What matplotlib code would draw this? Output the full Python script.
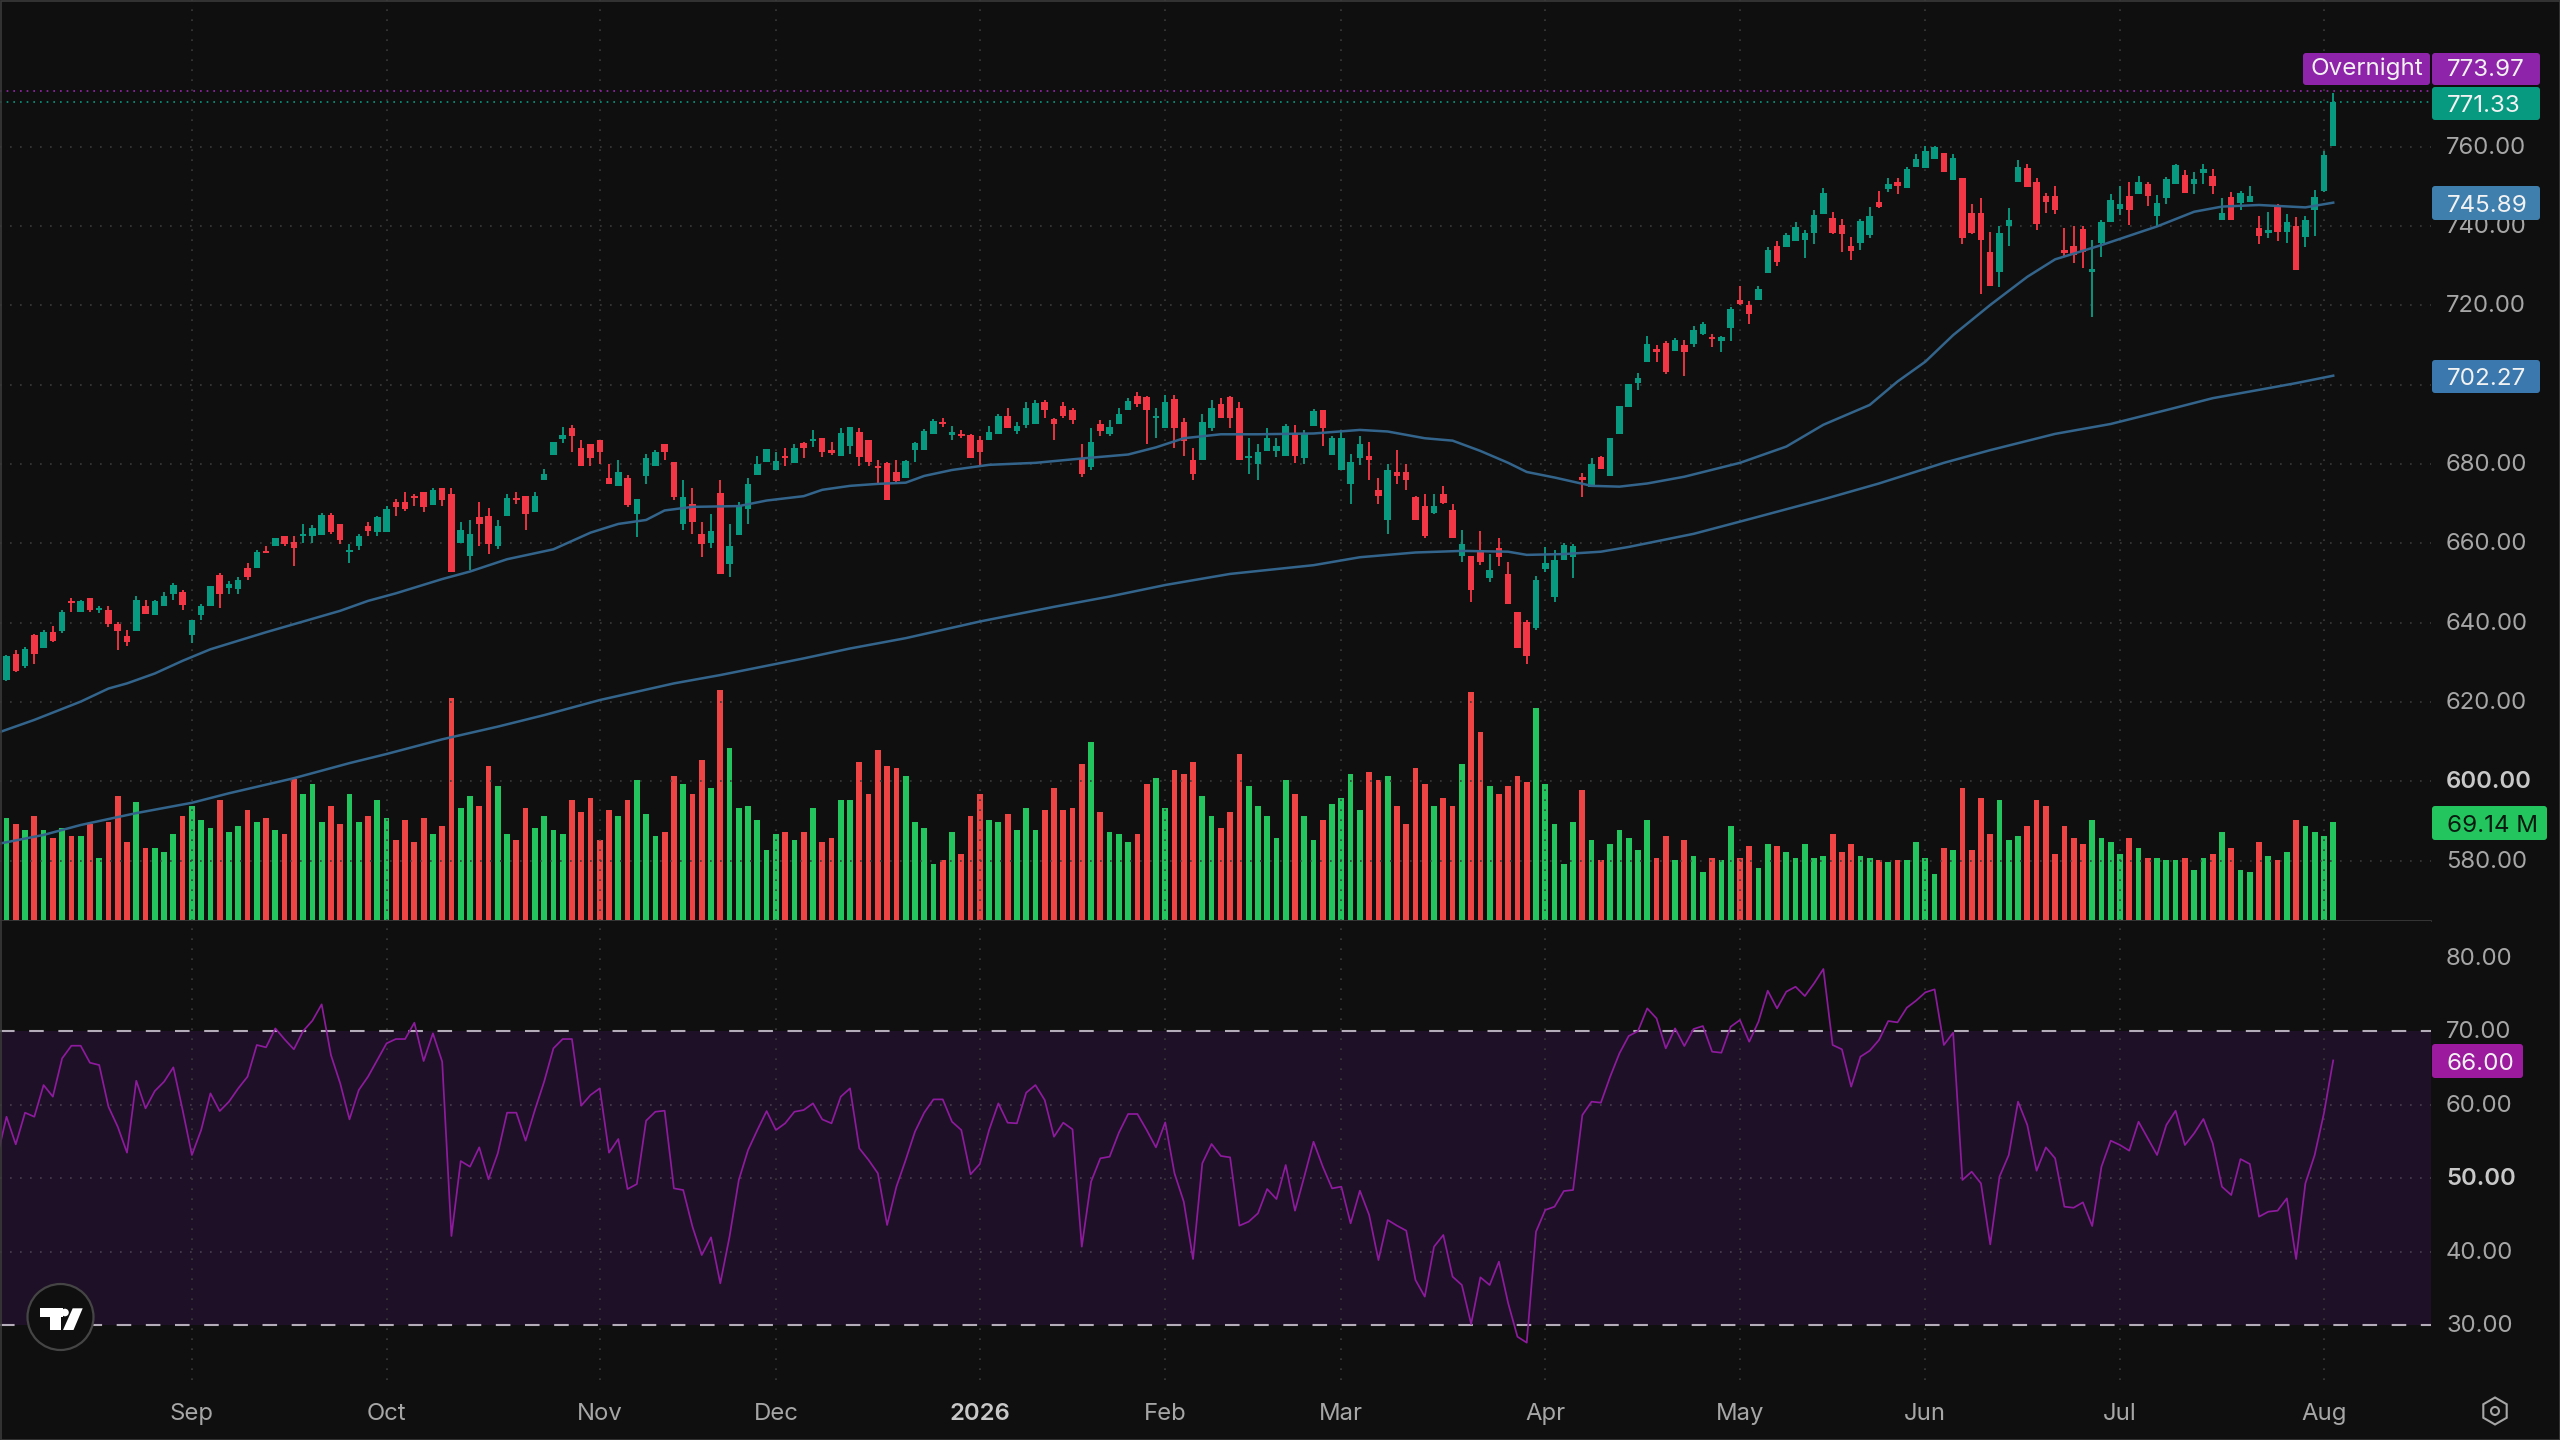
import numpy as np
import matplotlib
matplotlib.use("Agg")
import matplotlib.pyplot as plt
from matplotlib.patches import FancyBboxPatch, Circle, Polygon, RegularPolygon, Rectangle
from matplotlib.transforms import ScaledTranslation

plt.rcParams['font.family'] = ['Inter', 'DejaVu Sans']

opens = [
625.6,632.1,629.0,636.9,633.6,637.6,638.0,645.4,642.8,646.2,
643.2,643.2,639.7,636.7,637.8,644.2,642.0,644.3,647.2,647.8,
636.9,642.0,644.1,651.9,648.7,648.5,653.9,653.9,657.9,659.3,
661.9,660.3,661.9,661.9,662.0,667.2,664.8,657.8,659.3,664.5,
662.8,662.8,670.5,670.4,672.0,672.9,669.7,673.9,672.5,660.0,
656.9,666.7,666.9,659.3,667.0,671.5,672.0,667.9,676.0,682.3,
686.2,689.0,684.0,685.0,686.0,676.4,674.5,676.4,667.4,677.0,
679.4,685.0,680.6,664.9,669.8,662.4,660.2,672.8,654.8,662.1,
668.6,677.2,680.6,678.5,682.0,680.2,685.4,685.7,686.5,683.5,
681.9,684.5,688.2,686.1,679.5,680.2,677.9,676.5,683.5,683.5,
687.6,690.7,687.4,687.6,687.2,686.1,686.1,687.6,692.2,688.3,
689.8,690.1,695.7,691.3,694.6,693.6,681.4,679.3,690.1,687.6,
690.1,693.6,697.2,696.8,691.6,689.0,696.3,690.7,681.0,681.0,
689.0,695.1,696.8,694.0,681.4,679.9,683.4,683.4,682.0,687.7,
681.4,689.6,693.6,682.3,678.5,675.0,681.4,682.0,673.5,665.9,
677.9,677.9,671.6,669.4,667.7,672.4,668.4,656.8,656.8,658.3,
651.2,658.8,652.3,642.6,640.3,638.6,653.5,646.4,655.8,656.5,
676.8,674.3,681.7,677.0,687.6,694.5,700.5,705.8,708.9,710.4,
708.6,710.0,710.2,712.8,711.9,710.9,714.2,721.4,720.1,721.4,
728.1,735.0,734.6,736.1,736.5,738.2,743.0,742.0,740.3,735.0,
735.6,737.7,746.0,749.3,751.2,749.5,755.0,754.7,756.8,758.3,
751.6,752.0,743.4,743.4,733.5,728.5,740.0,751.2,754.7,751.2,
747.6,747.6,734.0,735.0,739.2,728.4,735.8,741.1,744.3,747.6,
748.1,750.6,742.5,747.0,750.6,752.9,750.6,753.4,752.5,741.4,
747.2,745.7,746.1,739.4,738.3,745.1,738.6,740.1,737.3,744.0,
748.9,760.2]

closes = [
631.6,627.7,633.3,632.1,637.7,635.5,642.8,644.9,645.4,643.2,
643.8,639.7,637.8,635.2,645.7,642.2,645.4,646.8,649.4,644.5,
640.7,644.3,649.2,647.2,649.7,650.8,651.6,657.9,657.5,661.3,
659.8,658.9,662.3,663.8,667.2,662.8,660.9,658.3,661.9,663.2,
666.6,668.6,669.1,668.7,671.4,669.1,673.5,671.0,652.9,663.4,
662.3,664.9,659.9,664.4,671.4,670.9,667.3,672.0,677.5,685.6,
687.3,687.1,679.6,681.5,683.1,675.0,678.1,669.7,671.1,681.4,
683.1,683.1,671.8,671.8,665.5,659.9,663.0,652.3,659.4,669.3,
675.0,680.0,683.7,680.8,681.6,684.0,684.0,686.2,683.1,682.9,
687.7,689.3,681.7,680.6,679.0,670.9,675.8,680.8,685.2,688.3,
690.9,690.1,688.0,687.0,681.6,683.1,688.2,692.2,689.2,689.6,
694.0,695.5,693.6,690.1,692.1,691.0,677.5,685.5,688.4,689.4,
692.6,695.9,695.1,693.6,692.2,695.7,689.0,685.9,677.5,690.7,
694.0,691.5,691.5,680.9,682.0,683.0,686.5,684.5,689.6,681.9,
687.7,693.4,689.0,686.5,686.5,680.4,685.0,681.0,672.0,678.5,
677.0,676.0,665.9,661.9,669.4,670.3,661.4,659.8,648.2,655.4,
653.3,656.5,644.7,633.7,631.6,650.8,655.1,655.8,659.6,659.3,
676.1,680.0,678.7,686.5,694.6,700.2,701.6,710.3,708.3,703.3,
711.3,708.3,713.8,715.3,711.4,711.9,719.0,720.3,717.8,724.1,
734.0,731.0,737.7,739.7,738.2,742.8,748.2,738.2,738.0,733.8,
741.3,742.5,744.9,750.6,750.1,754.5,756.8,758.8,760.0,753.7,
757.1,736.9,738.3,736.5,724.9,738.2,741.5,755.0,749.8,740.5,
746.1,744.0,733.3,732.7,733.5,729.1,741.1,746.6,745.6,744.0,
751.2,747.6,745.7,751.8,755.4,748.4,751.8,754.5,750.1,743.2,
741.5,748.2,747.6,737.6,739.0,738.6,741.1,728.9,741.4,747.2,
757.9,771.33]

highs = [
631.9,633.1,633.8,637.1,638.2,639.2,643.2,646.3,645.7,646.2,
644.2,644.2,640.3,638.2,646.7,645.7,645.7,647.7,649.9,648.2,
640.7,644.7,649.2,652.5,650.4,651.4,655.0,658.3,659.3,661.3,
661.9,661.9,664.8,664.6,667.6,667.6,664.8,659.8,662.4,665.3,
666.9,669.3,671.1,672.9,672.5,672.9,673.9,673.9,673.9,665.3,
665.9,670.5,669.0,665.9,672.5,672.9,672.0,673.0,678.7,685.6,
689.3,689.8,686.0,685.0,686.0,680.0,681.0,677.2,671.1,682.5,
683.5,685.0,680.6,676.0,673.9,665.3,667.4,676.0,664.9,670.5,
676.4,682.0,683.7,683.1,684.0,685.0,685.6,688.6,686.5,685.6,
689.0,689.3,689.0,686.1,681.0,680.6,681.0,681.0,685.6,688.8,
691.3,691.7,689.6,688.6,687.6,687.0,689.6,692.6,694.0,690.7,
695.7,696.1,696.1,691.7,695.7,694.0,685.0,689.0,691.1,691.1,
694.0,696.6,698.1,697.2,694.0,697.4,697.4,691.5,684.1,692.6,
696.1,696.7,697.2,695.7,686.5,685.0,689.0,686.5,690.1,689.8,
688.6,693.8,693.6,687.1,688.6,682.5,687.0,685.6,676.4,680.0,
683.5,680.0,672.0,672.5,672.4,674.5,669.9,663.4,656.8,663.0,
657.3,661.3,655.4,642.6,640.7,651.8,659.2,658.3,660.0,659.8,
677.7,681.4,682.0,686.5,694.6,700.2,702.9,712.3,710.0,711.1,
711.7,711.3,714.8,715.9,712.8,712.3,719.7,724.9,721.2,724.9,
734.6,736.1,738.2,740.9,739.0,744.0,749.5,743.6,741.7,737.3,
741.7,744.9,748.9,752.0,752.0,755.0,758.2,760.2,760.2,758.3,
758.2,752.0,745.6,747.0,738.6,740.1,744.5,756.7,755.6,752.0,
748.2,750.1,739.4,740.0,739.9,736.5,741.5,748.0,750.1,751.2,
752.6,751.2,747.8,752.3,755.7,754.1,753.7,755.6,754.5,747.0,
748.5,748.9,750.1,742.5,743.6,745.6,743.0,742.4,742.5,749.1,
758.8,773.5]

lows = [
625.3,627.5,628.5,629.6,633.6,635.2,637.3,642.8,642.8,642.8,
642.4,638.9,633.1,634.1,637.8,642.2,642.0,644.3,645.7,643.2,
634.8,640.7,644.1,643.6,647.2,647.2,650.8,653.9,657.5,659.3,
659.3,654.3,660.2,660.2,662.0,662.3,659.9,655.0,658.3,661.9,
661.9,662.8,666.9,668.2,669.3,668.0,669.7,669.4,652.9,660.0,
653.3,659.4,657.3,658.5,667.0,669.9,663.4,667.9,676.0,682.3,
685.2,683.1,679.6,679.6,680.0,675.0,674.5,669.1,661.5,675.0,
679.4,681.0,671.0,663.4,662.4,656.5,658.9,652.3,651.4,662.1,
664.9,677.2,680.6,678.5,679.4,680.2,681.4,684.4,681.7,682.3,
681.9,682.5,679.5,679.5,674.7,670.9,675.1,676.5,680.6,683.5,
687.6,689.4,686.0,686.5,681.6,679.8,686.1,687.6,689.2,687.6,
689.0,690.1,691.5,686.1,691.5,690.1,676.8,678.5,687.1,687.1,
690.1,693.6,694.3,685.1,686.5,689.0,684.0,682.0,676.0,681.0,
688.3,691.5,689.0,680.9,677.5,676.0,683.4,681.7,682.0,680.3,
680.0,689.6,684.5,682.3,678.5,669.9,679.8,676.0,669.9,662.4,
675.0,673.5,665.9,661.4,667.4,669.9,661.4,655.4,645.1,654.5,
650.3,654.3,644.7,633.7,629.6,638.2,652.9,645.3,655.8,651.2,
671.6,674.1,678.7,677.0,687.6,694.5,698.7,705.8,705.8,702.6,
708.4,702.2,709.4,712.5,709.4,708.2,710.9,720.1,715.3,721.4,
728.1,729.9,734.6,736.1,732.0,735.5,743.0,738.0,733.5,731.4,
734.0,737.1,744.6,748.5,748.0,749.5,755.0,754.7,756.8,753.7,
751.6,735.5,738.0,722.9,724.9,724.7,735.0,751.2,749.8,739.0,
743.4,743.0,732.3,730.6,729.3,717.0,732.1,741.1,742.8,740.3,
748.1,745.1,740.1,745.6,750.6,748.4,748.0,750.6,748.1,741.4,
741.5,744.0,746.1,735.5,736.9,736.1,735.8,728.9,734.6,737.6,
748.5,760.2]

volumes_m = [
71.7,67.5,63.3,73.1,63.3,57.7,64.7,59.1,59.1,67.5,
43.6,68.9,87.2,54.8,83.0,50.6,50.6,47.8,60.5,73.1,
80.2,70.3,64.7,84.4,61.9,66.1,77.4,68.9,71.7,63.3,
60.5,99.4,88.6,95.6,68.9,80.2,67.5,88.6,68.9,73.1,
84.4,71.7,56.3,70.3,54.8,71.7,60.5,66.1,156.1,78.8,
87.2,80.2,108.3,94.2,60.5,56.3,78.8,64.7,73.1,63.3,
60.5,84.4,75.9,85.8,56.3,77.4,73.1,84.4,98.4,74.5,
59.1,61.9,101.3,95.6,88.6,112.5,92.8,161.8,121.0,78.8,
80.2,70.3,49.2,60.5,61.9,56.3,61.9,78.8,54.8,57.7,
84.4,84.4,111.1,88.6,119.5,108.3,106.9,101.3,68.9,64.7,
39.4,42.2,61.9,46.4,73.1,88.6,70.3,68.9,74.5,63.3,
78.8,63.3,77.4,92.8,77.4,78.8,109.7,125.2,75.9,61.9,
60.5,54.8,60.5,95.6,99.9,78.8,105.5,102.7,111.1,87.2,
73.1,64.7,75.9,116.7,94.2,80.2,73.1,57.7,98.4,88.6,
73.1,56.3,70.3,81.6,85.8,102.7,77.4,104.1,98.4,101.3,
80.2,67.5,106.9,95.6,80.2,85.8,80.2,109.7,160.3,132.2,
94.2,88.6,94.2,101.3,97.0,149.1,95.6,67.5,39.4,68.9,
91.4,56.3,42.2,53.4,63.3,57.7,49.2,70.3,43.6,59.1,
42.2,56.3,45.0,33.8,43.6,42.2,66.1,43.6,52.0,36.6,
53.4,52.0,47.8,43.6,53.4,43.6,45.0,60.5,47.8,53.4,
45.0,43.6,42.2,40.8,42.2,42.2,54.8,43.6,32.3,50.6,
49.2,92.8,49.2,85.8,60.5,84.4,56.3,59.1,66.1,84.4,
80.2,46.4,66.1,57.7,53.4,70.3,57.7,54.8,46.4,57.7,
50.6,43.6,43.6,42.2,42.2,43.6,35.2,43.6,46.4,61.9,
50.6,35.2,33.8,54.8,45.0,42.2,47.8,70.3,66.1,61.9,
59.1,69.14]

rsi_before_window = [52.9]
rsi_values = [
58.34,54.58,58.89,58.34,62.65,61.07,66.28,68.0,68.0,65.69,
65.37,59.7,56.98,53.45,63.24,59.48,61.84,63.11,65.06,59.25,
53.13,56.53,61.52,59.11,60.39,62.2,63.79,68.1,67.78,70.36,
68.87,67.51,70.0,71.41,73.63,66.73,62.88,57.98,61.97,63.79,
66.05,68.32,68.91,68.91,71.13,65.92,69.68,65.83,42.11,52.31,
51.54,54.17,49.82,53.36,58.89,58.89,55.08,59.25,63.11,67.64,
68.91,68.91,59.84,61.29,62.2,53.45,55.31,48.5,49.18,57.8,
59.02,59.16,48.59,48.37,43.38,39.52,41.93,35.67,42.02,49.73,
53.81,56.53,59.11,56.53,57.44,59.02,59.25,60.16,57.98,57.44,
61.07,62.2,54.04,52.45,50.64,43.61,48.82,52.45,56.3,58.89,
60.7,60.7,57.66,56.53,50.5,51.91,56.53,60.16,57.53,57.44,
61.61,62.65,60.61,55.62,57.53,56.62,40.66,49.5,52.68,52.9,
56.17,58.71,58.71,56.53,54.17,57.57,50.64,46.78,38.98,52.0,
54.63,53.0,52.81,43.52,44.06,45.19,48.5,47.14,51.77,45.56,
50.18,54.94,51.54,48.59,48.82,43.83,48.28,44.97,38.84,44.29,
43.52,42.84,36.12,33.86,40.66,42.25,36.58,35.44,30.14,36.49,
35.44,38.62,32.95,28.41,27.6,42.7,45.65,46.1,48.23,48.37,
58.57,60.39,60.25,63.79,66.96,69.32,70.0,73.08,71.72,67.64,
70.36,67.96,70.27,70.68,67.19,67.05,70.59,71.5,68.55,71.27,
75.49,73.08,75.35,76.03,74.76,76.49,78.44,68.1,67.51,62.43,
66.51,67.32,68.78,71.36,71.18,73.17,74.13,75.26,75.67,68.1,
69.77,49.73,50.86,49.27,40.97,50.18,53.13,60.39,57.21,50.99,
54.17,52.68,46.1,45.96,46.69,43.47,51.54,55.08,54.49,53.72,
57.66,55.4,53.13,57.21,59.16,54.49,56.08,58.03,54.72,48.82,
47.69,52.58,51.91,44.74,45.42,45.56,47.23,38.98,49.27,53.13,
58.8,66.0]

ma50_bars = [-1,3,8,11,13,16,19,22,28,32,36,39,42,47,50,54,59,63,66,69,71,74,79,82,
             86,88,91,94,97,99,102,106,111,116,121,124,127,131,135,141,146,149,153,156,159,162,164,167,
             171,174,177,181,187,192,196,201,204,207,210,214,218,221,226,232,236,239,243,248,251]
ma50_vals = [612.2,615.5,620.1,623.4,624.7,627.2,630.4,633.3,637.6,640.3,643.0,645.5,647.4,651.0,652.9,656.0,658.5,662.7,664.9,665.9,668.3,669.2,669.4,670.8,
             671.9,673.5,674.5,675.0,675.3,677.0,678.5,679.8,680.3,681.4,682.4,684.2,686.5,687.5,687.5,687.7,688.6,688.2,686.5,685.9,683.3,680.3,678.0,676.6,
             674.5,674.3,675.1,676.8,680.3,684.4,689.9,694.9,700.8,705.8,712.5,720.1,727.2,731.6,735.2,739.9,743.6,744.9,745.3,744.7,745.89]
ma200_bars = [-1,4,8,14,20,24,31,37,41,47,53,58,64,72,77,86,91,97,105,113,119,125,132,141,146,152,157,162,164,168,172,
              175,182,188,196,202,209,214,221,227,233,238,243,247,251]
ma200_vals = [584.2,586.5,589.0,592.0,594.6,597.0,600.8,604.6,606.9,610.6,613.8,616.7,620.5,624.7,626.8,631.0,633.5,636.1,640.3,644.0,646.6,649.5,652.3,654.5,656.5,657.7,658.1,657.9,657.1,657.3,657.9,
              659.1,662.4,666.1,671.1,675.1,680.3,683.5,687.6,690.1,693.6,696.6,698.7,700.4,702.27]

price_ticks = [580,600,620,640,660,680,700,720,740,760]
rsi_ticks = [30,40,50,60,70,80]
month_bars = [20,41,64,83,105,125,144,166,187,207,228,250]
month_labels = ['Sep','Oct','Nov','Dec','2026','Feb','Mar','Apr','May','Jun','Jul','Aug']

BG = '#0f0f0f'
UP = '#089981'; DN = '#f23645'
VUP = '#22c55e'; VDN = '#ef4444'
GRID = '#3a3a3a'
MA = '#33658c'
TXT = '#a6a6a6'
PURPLE = '#8e1a9e'

W, H = 2560, 1440
PLOT_R = 2431; SEP = 921; RSI_B = 1380
fig = plt.figure(figsize=(W/100, H/100), dpi=100, facecolor=BG)

def pane(top, bottom, right=PLOT_R):
    return [0, 1-bottom/H, right/W, (bottom-top)/H]

def lift(labels, px):
    for lab in labels:
        lab.set_transform(lab.get_transform() + ScaledTranslation(0, px/100, fig.dpi_scale_trans))

XLIM = (-0.7012, 261.55)
x = np.arange(len(closes))
o, c, hi, lo = map(np.array, (opens, closes, highs, lows))
up = c >= o
cc = np.where(up, UP, DN)

# volume
axv = fig.add_axes(pane(0, SEP), zorder=1, facecolor=BG)
axv.set_xlim(*XLIM); axv.set_ylim(-0.7, 646.8); axv.axis('off')
axv.bar(x, volumes_m, width=0.62, color=np.where(up, VUP, VDN), linewidth=0)

# price
ax = fig.add_axes(pane(0, SEP), zorder=2)
ax.patch.set_alpha(0)
ax.set_xlim(*XLIM); ax.set_ylim(564.8, 796.98)
for s in ax.spines.values(): s.set_visible(False)
ax.spines['bottom'].set_visible(True); ax.spines['bottom'].set_color('#3c3c3c'); ax.spines['bottom'].set_linewidth(1.2)
ax.set_xticks(month_bars); ax.set_xticklabels([])
ax.yaxis.tick_right()
ax.set_yticks(price_ticks)
ax.set_yticklabels([f'{t:.2f}' for t in price_ticks], fontsize=17.2, color=TXT, ha='left')
ax.tick_params(length=0, pad=10.8)
for lab, t in zip(ax.get_yticklabels(), price_ticks):
    if t == 600:
        lab.set_fontweight('semibold'); lab.set_color('#c8c8c8')
lift(ax.get_yticklabels(), 1.5)
ax.grid(True, color=GRID, lw=1.2, ls=(0, (1, 5)), zorder=0)
ax.set_axisbelow(True)
ax.vlines(x, lo, hi, colors=cc, lw=1.35, zorder=3)
ax.bar(x, np.maximum(np.abs(c-o), 0.5), bottom=np.minimum(o, c), width=0.7, color=cc, linewidth=0, zorder=3)
ax.plot(ma50_bars, ma50_vals, color=MA, lw=1.8, zorder=4)
ax.plot(ma200_bars, ma200_vals, color=MA, lw=1.8, zorder=4)
ax.axhline(closes[-1], color=UP, lw=1.2, ls=(0, (1, 3)), zorder=2)
ax.axhline(773.97, color='#9c27b0', lw=1.2, ls=(0, (1, 3)), zorder=2)

# RSI
axr = fig.add_axes(pane(SEP, RSI_B), zorder=2, facecolor=BG)
axr.set_xlim(*XLIM); axr.set_ylim(22.52, 84.97)
for s in axr.spines.values(): s.set_visible(False)
axr.axhspan(30, 70, color='#1e1026', lw=0, zorder=0)
axr.set_xticks(month_bars); axr.set_xticklabels(month_labels, fontsize=17.2, color=TXT)
axr.yaxis.tick_right()
axr.set_yticks(rsi_ticks)
axr.set_yticklabels([f'{t:.2f}' for t in rsi_ticks], fontsize=17.2, color=TXT, ha='left')
axr.tick_params(length=0, pad=10.8)
axr.tick_params(axis='x', pad=16.5)
for lab, t in zip(axr.get_yticklabels(), rsi_ticks):
    if t == 50:
        lab.set_fontweight('semibold'); lab.set_color('#c8c8c8')
lift(axr.get_yticklabels(), 1.5)
for lab, t in zip(axr.get_xticklabels(), month_labels):
    if t == '2026':
        lab.set_fontweight('semibold'); lab.set_color('#c8c8c8')
axr.xaxis.grid(True, color=GRID, lw=1.2, ls=(0, (1, 5)), zorder=1)
axr.set_axisbelow(True)
for lvl in (40, 50, 60):
    axr.axhline(lvl, color='#4a4050', lw=1.2, ls=(0, (1, 5)), zorder=1)
for lvl in (30, 70):
    axr.axhline(lvl, color='#b4acb8', lw=1.5, ls=(0, (7, 7)), zorder=1)
axr.plot(np.arange(-1, len(rsi_values)), rsi_before_window + rsi_values, color=PURPLE, lw=1.25, zorder=3)

# overlay in pixel coordinates: price tags, logo, settings icon
ov = fig.add_axes([0, 0, 1, 1], zorder=5)
ov.patch.set_alpha(0); ov.axis('off')
ov.set_xlim(0, W); ov.set_ylim(H, 0)

def tag(x0, x1, y0, y1, color, text, tc='#f2f2f2', tx=None, ha='center', dy=0):
    ov.add_patch(FancyBboxPatch((x0+2, y0+2), x1-x0-4, y1-y0-4, boxstyle='round,pad=2,rounding_size=3',
                                fc=color, ec='none', lw=0))
    ov.text((x0+x1)/2 if tx is None else tx, (y0+y1)/2 + dy, text, color=tc, fontsize=17.4, ha=ha, va='center_baseline')

tag(2303, 2430, 53, 85, '#8e24aa', 'Overnight', dy=-2.5)
tag(2432, 2540, 53, 85, '#8e24aa', '773.97', tx=2447, ha='left', dy=-1)
tag(2432, 2540, 87, 120, UP, '771.33', tx=2447, ha='left')
tag(2432, 2540, 186, 220, '#3f7fae', '745.89', tx=2447, ha='left')
tag(2432, 2540, 360, 393, '#3a78ad', '702.27', tx=2447, ha='left')
tag(2432, 2547, 806, 840, VUP, '69.14 M', tc='#0a1a10', tx=2447, ha='left')
tag(2432, 2523, 1044, 1078, '#9c1a9e', '66.00', tx=2447, ha='left')

# TradingView mark
ov.add_patch(Circle((60.5, 1317), 33, fc=BG, ec='#454545', lw=1.6))
ov.add_patch(Polygon([(40.2, 1308.3), (63, 1308.3), (63, 1316.7), (60.5, 1316.7), (60.5, 1330), (49.7, 1330), (49.7, 1316.7), (40.2, 1316.7)], fc='white', ec='none'))
ov.add_patch(Circle((65, 1312.5), 3.8, fc='white', ec='none'))
ov.add_patch(Polygon([(72.7, 1308.3), (82.7, 1308.3), (73.5, 1330), (63, 1330)], fc='white', ec='none'))

# settings icon
ov.add_patch(RegularPolygon((2495, 1411), 6, radius=13.5, fc='none', ec='#a6a6a6', lw=1.5))
ov.add_patch(Circle((2495, 1411), 4, fc='none', ec='#a6a6a6', lw=1.5))

# thin frame
ov.add_patch(Rectangle((0.5, 0.5), W-1, H-1, fc='none', ec='#3a3a3a', lw=1.2))

fig.savefig('out.png', dpi=100, facecolor=BG)
